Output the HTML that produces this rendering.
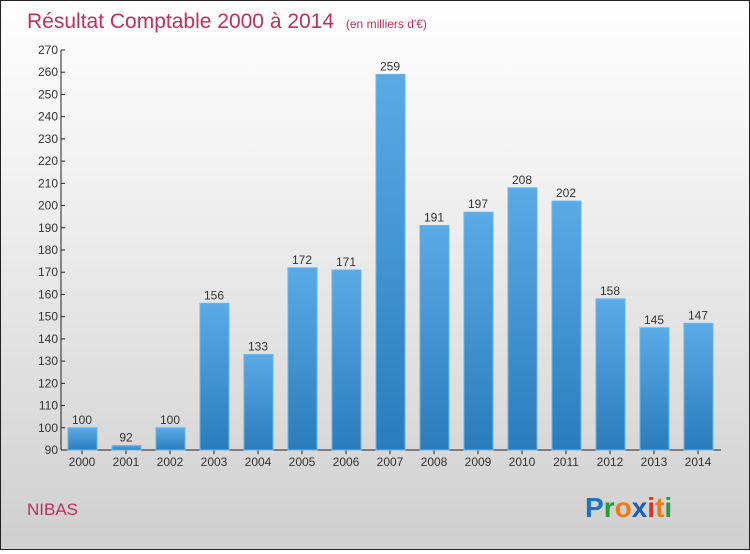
<!DOCTYPE html>
<html><head><meta charset="utf-8"><style>
html,body{margin:0;padding:0}
body{width:750px;height:550px;overflow:hidden;font-family:"Liberation Sans",sans-serif}
#wrap{position:absolute;left:0;top:0;width:748px;height:548px;border:1px solid #222;background:linear-gradient(#fefefe,#f2f2f2 30%,#cfcfcf)}
</style></head><body>
<div id="wrap">
<svg id="chart" width="748" height="548" xmlns="http://www.w3.org/2000/svg">
<defs><linearGradient id="bg" x1="0" y1="0" x2="0" y2="1"><stop offset="0" stop-color="#5aaae6"/><stop offset="1" stop-color="#2a7cbc"/></linearGradient></defs>
<text x="26" y="27" font-size="21" fill="#c0305a">Résultat Comptable 2000 à 2014 <tspan font-size="12" dx="6">(en milliers d'€)</tspan></text>
<text x="26" y="514" font-size="17" fill="#c0305a">NIBAS</text>
<g font-size="28" font-weight="bold" font-family="Liberation Sans,sans-serif">
<text x="584" y="516"><tspan fill="#1a73c8">P</tspan><tspan fill="#2a9a3a">r</tspan><tspan fill="#f07a10">o</tspan><tspan fill="#1a60b8">x</tspan><tspan fill="#e03020">i</tspan><tspan fill="#f07a10">t</tspan><tspan fill="#2a9a3a">i</tspan></text></g>
<g id="axes"></g><g id="bars"></g>
</svg></div>
<script>
const categories=["2000","2001","2002","2003","2004","2005","2006","2007","2008","2009","2010","2011","2012","2013","2014"];
const values=[100,92,100,156,133,172,171,259,191,197,208,202,158,145,147];
const yTicks=[90,100,110,120,130,140,150,160,170,180,190,200,210,220,230,240,250,260,270];
const yMin=90,yMax=270,plotTop=49,plotBot=449,axisX=60;
function y(v){return plotBot-(v-yMin)/(yMax-yMin)*(plotBot-plotTop);}
function xc(i){return 81+i*44;}
const NS="http://www.w3.org/2000/svg";
const ax=document.getElementById('axes'),bg=document.getElementById('bars');
function mk(tag,attrs,parent){const e=document.createElementNS(NS,tag);for(const k in attrs)e.setAttribute(k,attrs[k]);parent.appendChild(e);return e;}
let l=mk('line',{x1:axisX,y1:plotTop,x2:axisX,y2:plotBot,stroke:'#222'},ax);


l=mk('line',{x1:axisX,y1:plotBot,x2:720,y2:plotBot,stroke:'#222'},ax);


yTicks.forEach(t=>{
 mk('line',{x1:axisX,y1:y(t),x2:axisX+4,y2:y(t),stroke:'#222'},ax);
 const tx=mk('text',{x:axisX-3,y:y(t)+4,'font-size':12,fill:'#333','text-anchor':'end'},ax);
 tx.textContent=t;
 
 
});
categories.forEach((c,i)=>{
 const v=values[i];
 const r=mk('rect',{x:xc(i)-14,y:y(v),width:29,height:plotBot-y(v),fill:'url(#bg)',stroke:'#6ab4ea','stroke-width':1},bg);
 
 
 const lb=mk('text',{x:xc(i),y:y(v)-4,'font-size':12,fill:'#333','text-anchor':'middle'},bg);
 lb.textContent=v;
 
 
 mk('line',{x1:xc(i),y1:plotBot,x2:xc(i),y2:plotBot+4,stroke:'#222'},ax);
 const xl=mk('text',{x:xc(i),y:plotBot+16,'font-size':12,fill:'#333','text-anchor':'middle'},ax);
 xl.textContent=c;
 
 
});
</script>
</body></html>
